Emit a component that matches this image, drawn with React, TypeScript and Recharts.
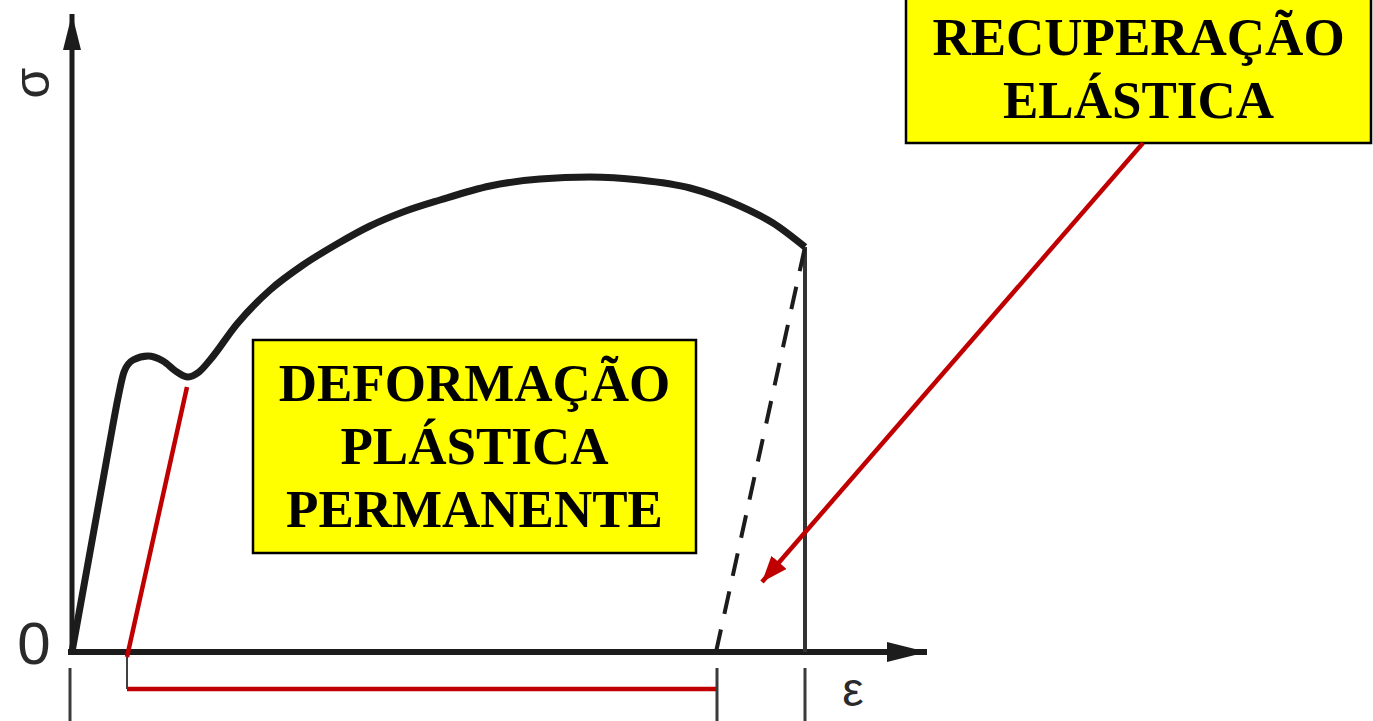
import React from 'react';
import { LineChart, Line, XAxis, YAxis, ReferenceArea, ReferenceDot } from 'recharts';

// strain (ε) and stress (σ), arbitrary units
const curveStrain = [0, 4.0, 4.6, 5.2, 6.1, 7.6, 9.1, 10.5, 11.6, 12.7, 13.8, 16.5, 19.8, 23.1, 26.5, 29.8, 33.1, 36.8, 41.8, 46.8, 51.8, 56.8, 61.8, 66.8, 70.1, 73.3];
const curveStress = [0, 22.2, 25.4, 28.0, 29.2, 29.6, 29.1, 28.0, 27.5, 28.0, 29.2, 32.8, 36.2, 38.7, 40.8, 42.6, 44.0, 45.2, 46.6, 47.3, 47.5, 47.2, 46.4, 44.6, 42.9, 40.5];

const unloadStrain = [64.4, 73.3];
const unloadStress = [0, 40.5];

const ruptureStrain = [73.3, 73.3];
const ruptureStress = [0, 40.5];

const plasticStrain = [5.5, 11.5];
const plasticStress = [-0.5, 26.5];

const bracketStrain = [5.5, 5.5, 64.4];
const bracketStress = [-0.5, -3.7, -3.7];

const tickStrain = [-0.2, 64.5, 73.3];
const tickStress = [-1.6, -7];

const xAxisStrain = [-0.4, 85.5];
const yAxisStress = [-0.3, 63.8];

const arrowStrain = [107.1, 69.0];
const arrowStress = [50.9, 7.0];

const plasticLabel = ['DEFORMAÇÃO', 'PLÁSTICA', 'PERMANENTE'];
const elasticLabel = ['RECUPERAÇÃO', 'ELÁSTICA'];

const pts = (xs: number[], ys: number[]) => xs.map((e, i) => ({ e, s: ys[i] }));

const BLACK = '#1c1c1c';
const RED = '#c00000';

const BoxText = ({ viewBox, lines }: any) => {
  const { x, y, width, height } = viewBox;
  const lh = 63;
  const first = y + height / 2 - (lh * (lines.length - 1)) / 2 + 17.5;
  return (
    <text
      textAnchor="middle"
      fontFamily="'Liberation Serif', 'Times New Roman', serif"
      fontWeight="bold"
      fontSize={53}
      fill="#000"
    >
      {lines.map((l: string, i: number) => (
        <tspan key={l} x={x + width / 2} y={first + i * lh}>{l}</tspan>
      ))}
    </text>
  );
};

const Glyph = ({ cx, cy, ch, size, rotate }: any) => (
  <text
    x={cx}
    y={cy}
    textAnchor="middle"
    dominantBaseline="central"
    fontFamily="'Liberation Sans', Arial, sans-serif"
    fontSize={size}
    fill="#2a2a2a"
    transform={rotate ? `rotate(${rotate} ${cx} ${cy})` : undefined}
  >
    {ch}
  </text>
);

const seg = { dot: false, activeDot: false, isAnimationActive: false, type: 'linear' as const };

export default function App() {
  return (
    <div style={{ position: 'absolute', left: 0, top: 0, background: '#fff' }}>
      <LineChart width={1373} height={721} margin={{ top: 0, right: 0, bottom: 0, left: 0 }}>
        <defs>
          <marker id="arrY" markerUnits="userSpaceOnUse" viewBox="0 0 36 18" markerWidth={36} markerHeight={18} refX={36} refY={9} orient="auto">
            <path d="M0,0 L36,9 L0,18 z" fill={BLACK} />
          </marker>
          <marker id="arrX" markerUnits="userSpaceOnUse" viewBox="0 0 40 20" markerWidth={40} markerHeight={20} refX={40} refY={10} orient="auto">
            <path d="M0,0 L40,10 L0,20 z" fill={BLACK} />
          </marker>
          <marker id="arrR" markerUnits="userSpaceOnUse" viewBox="0 0 26 20" markerWidth={26} markerHeight={20} refX={26} refY={10} orient="auto">
            <path d="M0,0 L26,10 L0,20 z" fill={RED} />
          </marker>
        </defs>
        <XAxis type="number" dataKey="e" domain={[-7.2, 130.1]} hide allowDataOverflow />
        <YAxis type="number" dataKey="s" domain={[-6.9, 65.2]} hide allowDataOverflow />

        <ReferenceArea
          x1={18.1} x2={62.4} y1={9.9} y2={31.2}
          fill="#ffff00" fillOpacity={1} stroke="#000" strokeWidth={2.5} ifOverflow="visible"
          label={(p: any) => <BoxText viewBox={p.viewBox} lines={plasticLabel} />}
        />
        <ReferenceArea
          x1={83.4} x2={129.9} y1={50.9} y2={65.7}
          fill="#ffff00" fillOpacity={1} stroke="#000" strokeWidth={2.5} ifOverflow="visible"
          label={(p: any) => <BoxText viewBox={p.viewBox} lines={elasticLabel} />}
        />

        {/* axes */}
        <Line {...seg} data={pts(xAxisStrain, [0, 0])} dataKey="s" stroke={BLACK} strokeWidth={6} markerEnd="url(#arrX)" />
        <Line {...seg} data={pts([0, 0], yAxisStress)} dataKey="s" stroke={BLACK} strokeWidth={5} markerEnd="url(#arrY)" />
        {tickStrain.map((t) => (
          <Line key={t} {...seg} data={pts([t, t], tickStress)} dataKey="s" stroke="#3a3a3a" strokeWidth={3} />
        ))}

        {/* rupture drop, elastic recovery */}
        <Line {...seg} data={pts(ruptureStrain, ruptureStress)} dataKey="s" stroke="#333" strokeWidth={4} />
        <Line {...seg} data={pts(unloadStrain, unloadStress)} dataKey="s" stroke={BLACK} strokeWidth={4} strokeDasharray="23 16" />

        {/* stress-strain curve */}
        <Line
          data={pts(curveStrain, curveStress)}
          dataKey="s"
          type="monotone"
          stroke={BLACK}
          strokeWidth={7}
          strokeLinejoin="round"
          dot={false}
          activeDot={false}
          isAnimationActive={false}
        />

        {/* permanent set */}
        <Line {...seg} data={pts(plasticStrain, plasticStress)} dataKey="s" stroke={RED} strokeWidth={4.5} />
        <Line {...seg} data={pts(bracketStrain.slice(0, 2), bracketStress.slice(0, 2))} dataKey="s" stroke="#000" strokeWidth={1.5} />
        <Line {...seg} data={pts(bracketStrain.slice(1), bracketStress.slice(1))} dataKey="s" stroke={RED} strokeWidth={4.5} />

        {/* pointer to elastic recovery */}
        <Line {...seg} data={pts(arrowStrain, arrowStress)} dataKey="s" stroke={RED} strokeWidth={4.5} markerEnd="url(#arrR)" />

        <ReferenceDot x={-3.8} y={0.9} r={0} shape={(p: any) => <Glyph {...p} ch="0" size={60} />} />
        <ReferenceDot x={-4.0} y={56.9} r={0} shape={(p: any) => <Glyph {...p} ch="σ" size={50} rotate={-90} />} />
        <ReferenceDot x={78.1} y={-3.7} r={0} shape={(p: any) => <Glyph {...p} ch="ε" size={48} />} />
      </LineChart>
    </div>
  );
}
